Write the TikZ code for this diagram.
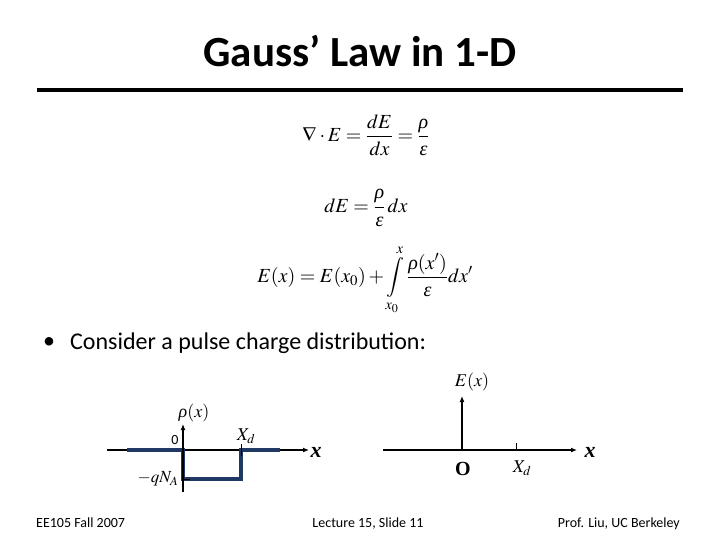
\documentclass[tikz,border=0pt]{standalone}
\usepackage{amsmath}
\usepackage{mathptmx}
\usepackage[no-math]{fontspec}
\setmainfont{Carlito}
\newfontfamily\serif{Liberation Serif}
\usetikzlibrary{arrows.meta,positioning}
\definecolor{pulseblue}{RGB}{32,56,100}
\newcommand{\grk}[1]{\text{\serif\itshape #1}}
\newcommand{\bx}{\text{\serif\bfseries\itshape x}}

\begin{document}
\begin{tikzpicture}[
    x=1pt, y=-1pt,
    axis/.style={-{Latex[length=6pt,width=5pt]}, line width=1.3pt},
    pulse/.style={pulseblue, line width=4pt},
    eqn/.style={inner sep=0pt, font=\fontsize{20}{24}\selectfont},
    lbl/.style={inner sep=0pt, font=\fontsize{18}{22}\selectfont},
    foot/.style={inner sep=0pt, font=\fontsize{14}{16}\selectfont}
]
\useasboundingbox (0,0) rectangle (720,540);

% title and rule
\node[inner sep=0pt, font=\fontsize{43}{50}\selectfont\bfseries] (title) at (360,51) {Gauss’ Law in 1-D};
\coordinate (ruleL) at (37,90);
\coordinate (ruleR) at (683,90);
\draw[line width=4pt] (ruleL) -- (ruleR);

% equations
\node[eqn] (eq1) at (366,135) {$\nabla\cdot E=\dfrac{dE}{dx}=\dfrac{\grk{ρ}}{\grk{ε}}$};
\node[eqn] (eq2) at (366,208) {$dE=\dfrac{\grk{ρ}}{\grk{ε}}\,dx$};
\node[eqn] (eq3) at (365,280) {$\displaystyle E(x)=E(x_0)+\int\limits_{x_0}^{x}\frac{\grk{ρ}(x')}{\grk{ε}}dx'$};

% bullet
\node[inner sep=0pt, anchor=west, font=\fontsize{24}{28}\selectfont] (dot) at (43,343) {•};
\node[inner sep=0pt, anchor=west, font=\fontsize{24}{28}\selectfont] (bullet) at (70,343) {Consider a pulse charge distribution:};

% charge density
\coordinate (lO) at (183,450);
\coordinate (lxs) at (107,450);
\coordinate (lxe) at (309,450);
\coordinate (lys) at (183,492);
\coordinate (lye) at (183,424);
\draw[axis] (lxs) -- (lxe);
\draw[pulse] (127,450) -- (183,450) -- (183,479) -- (241,479) -- (241,450) -- (280,450);
\draw[axis] (lys) -- (lye);
\draw[line width=1pt] (241,444) -- (241,456);
\draw[line width=1pt] (183,479) -- (190,479);
\node[lbl] (rho) at (194,413) {$\grk{ρ}(x)$};
\node[inner sep=0pt, font=\fontsize{14}{16}\selectfont] (zero) at (175,440) {0};
\node[lbl] (Xd1) at (246,436) {$X_d$};
\node[inner sep=0pt, font=\fontsize{17}{19}\selectfont] (qNA) at (158,479) {$-qN_A$};
\node[lbl, font=\fontsize{22}{24}\selectfont] (x1) at (316,452) {$\bx$};

% field
\coordinate (rO) at (462,450);
\coordinate (rxs) at (383,450);
\coordinate (rxe) at (577,450);
\coordinate (rye) at (462,396);
\draw[axis] (rxs) -- (rxe);
\draw[axis] (rO) -- (rye);
\draw[line width=1pt] (516,443) -- (516,450);
\node[lbl] (Ex) at (472,382) {$E(x)$};
\node[inner sep=0pt, font=\fontsize{20}{24}\serif\bfseries] (O) at (463,469) {O};
\node[lbl] (Xd2) at (522,468) {$X_d$};
\node[lbl, font=\fontsize{22}{24}\selectfont] (x2) at (590,452) {$\bx$};

% footer
\node[foot, anchor=base west] (f1) at (36,527) {EE105 Fall 2007};
\node[foot, anchor=base] (f2) at (368,527) {Lecture 15, Slide 11};
\node[foot, anchor=base east] (f3) at (680,527) {Prof. Liu, UC Berkeley};
\end{tikzpicture}
\end{document}
